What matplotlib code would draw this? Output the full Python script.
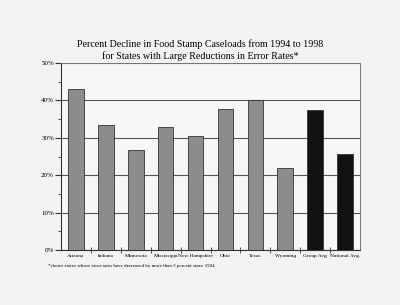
import matplotlib.pyplot as plt
import numpy as np
from matplotlib.ticker import MultipleLocator, FixedLocator, NullFormatter

# Values
states = ["Arizona", "Indiana", "Minnesota", "Mississippi", "New Hampshire",
          "Ohio", "Texas", "Wyoming", "Group Avg", "National Avg."]
decline = [43.0, 33.3, 26.8, 32.8, 30.4, 37.6, 40.0, 22.0, 37.3, 25.6]
is_average = [False] * 8 + [True, True]
y_ticks = [0, 10, 20, 30, 40, 50]

plt.rcParams['font.family'] = ['Liberation Serif', 'DejaVu Serif']

fig = plt.figure(figsize=(4.0, 3.05), dpi=100)
fig.patch.set_facecolor('#f3f3f1')
ax = fig.add_axes([61 / 400, 1 - 250 / 305, 299 / 400, 187 / 305])
ax.set_facecolor('#f7f7f5')

x = np.arange(len(states))
colors = ['#111111' if avg else '#8c8c8c' for avg in is_average]
ax.bar(x, decline, width=0.52, color=colors, edgecolor='#333333', linewidth=0.6, zorder=3)

ax.set_yticks(y_ticks)
ax.set_yticklabels(["{:d}%".format(v) for v in y_ticks])
ax.yaxis.set_minor_locator(MultipleLocator(5))
ax.set_xlim(-0.5, len(states) - 0.5)
ax.set_ylim(0, 50)
ax.grid(axis='y', which='major', color='#555555', linewidth=0.8, zorder=1)

ax.set_xticks(x)
ax.set_xticklabels(states)
ax.tick_params(axis='x', which='major', length=0, labelsize=3.9, pad=3)
ax.xaxis.set_minor_locator(FixedLocator(x[:-1] + 0.5))
ax.xaxis.set_minor_formatter(NullFormatter())
ax.tick_params(axis='x', which='minor', length=4, direction='inout', color='#333333')
ax.tick_params(axis='y', which='both', direction='out', labelsize=5, color='#333333', pad=1)
ax.tick_params(axis='y', which='major', length=4)
ax.tick_params(axis='y', which='minor', length=2.5)

for side in ['left', 'bottom']:
    ax.spines[side].set_color('#333333')
    ax.spines[side].set_linewidth(0.8)
for side in ['top', 'right']:
    ax.spines[side].set_color('#777777')
    ax.spines[side].set_linewidth(0.7)

fig.text(0.5, 1 - 44 / 305, "Percent Decline in Food Stamp Caseloads from 1994 to 1998",
         ha='center', va='center', fontsize=7.2)
fig.text(0.5, 1 - 56 / 305, "for States with Large Reductions in Error Rates*",
         ha='center', va='center', fontsize=7.2)
fig.text(48 / 400, 1 - 266 / 305,
         "*shows states whose error rates have decreased by more than 3 percent since 1994",
         ha='left', va='center', fontsize=3.6)

fig.savefig("out.png", dpi=100, facecolor=fig.get_facecolor())
